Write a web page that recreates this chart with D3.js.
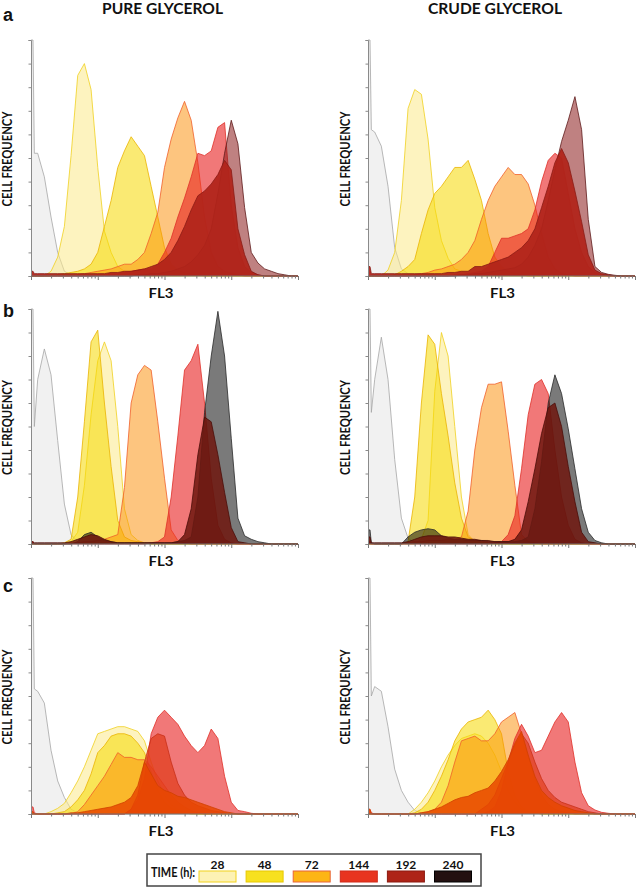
<!DOCTYPE html>
<html><head><meta charset="utf-8">
<script src="https://cdn.jsdelivr.net/npm/d3@7"></script>
<style>
body{margin:0;background:#fff}
svg{display:block}
text{font-family:Lato,"Open Sans",sans-serif;font-weight:700;fill:#111}
</style></head>
<body><svg id="chart" width="637" height="888"></svg>
<script>
// FL3 bins in log10 units (10^0 .. 10^4)
const binsLog=[0,0.03,0.05,0.1,0.2,0.3,0.4,0.5,0.6,0.7,0.8,0.9,1.0,1.1,1.2,1.3,1.4,1.5,1.6,1.7,1.8,1.9,2.0,2.1,2.2,2.3,2.4,2.5,2.6,2.7,2.8,2.9,3.0,3.1,3.2,3.3,3.4,3.5,3.6,3.7,3.8,3.9,4.0];
const timeLabels=["28","48","72","144","192","240"];
const columnTitles=["PURE GLYCEROL","CRUDE GLYCEROL"];
const panelLetters=["a","b","c"];

// ---- panel a, pure glycerol (cell frequency, % of axis) ----
const aP_ctrl=[100,100,52, 52,42,25,10,2,0.5,0,0,0,0];
const aP_28=[0,0,0, 0,0,2,8,21,51,85,90,79,46, 19,10,4,2,1,0.5,0,0,0,0];
const aP_48=[0,0,0, 0,0,0,0.5,1,1.5,2,3,5,10, 21,32,46,53,59,55,51,38,25,12, 5,2.5,1.4,0.8,0.4,0];
const aP_72=[0,0,0, 0,0,0,0,0,0,0.5,1,1.5,2, 2.5,3,4,5,5,7,10,18,27,46, 58,67,74,66,48,25,10,4,2,1, 0.5,0];
const aP_144=[0,0,0, 0,0,0,0,0,0,0,0,0,0.5, 0.5,1,1,1.5,2,2.5,3,3,5,10, 16,25,33,42,52,51,53,63,65,30, 12,4,1.5,0.5,0];
const aP_240=[0,0,0, 0,0,0,0,0,0,0,0,0,0, 0,0,0,0,0,0.5,0.5,1,1,1.5, 2,3,4,6,9,13,20,35,52,66, 56,29,10,5.5,3,2,1,0.5,0,0];
const aP_192=[2,2,1, 1,1,1,1,1,1,1,1,1,1, 1,1.5,1.5,2,2,2.5,3,4,5,7, 10,15,21,28,34,36,39,43,49,45, 20,9,2,0.5,0];
// ---- panel a, crude glycerol ----
const aC_ctrl=[100,100,62, 61,55,38,12,3,1,0,0,0,0];
const aC_28=[0,0,0, 0,0,2.5,10,32,71,79,77,58,29, 15,7.5,3,2,1,0.5,0,0,0,0];
const aC_48=[0,0,0, 0,0,0,0.5,2,4,7,18,28,35, 38,42,46,46,49,41,32,18,8,4, 2,1,0.5,0];
const aC_72=[0,0,0, 0,0,0,0,0,0,0.5,1,1.5,2.5, 3,4,5,7,10,15,24,32,38,42, 46,43,43,39,30,18,8,3,1,0.5, 0];
const aC_144=[0,0,0, 0,0,0,0,0,0,0,0,0,0, 0,0,0.5,0.5,1,1.5,2,4,10,16, 16,17,18,20,28,40,49,52,50,35, 20,10,4,1.5,0.5,0];
const aC_240=[0,0,0, 0,0,0,0,0,0,0,0,0,0, 0,0,0,0.5,0.5,1,1,1.5,2,2.5, 3,3.5,5,8,13,20,32,45,57,66, 76,62,24,4,1.5,0.7,0.3,0];
const aC_192=[4,4,1, 1,1,1,1,1,1,1,1,1,1, 1,1.5,1.5,2,2,4,4,5,6,7, 8,10,12,15,20,29,38,48,54,48, 36,23,9,2.5,1,0.5,0];
// ---- panel b, pure glycerol ----
const bP_ctrl=[100,100,50, 70,83,72,44,17,4,1,0,0,0];
const bP_28=[0,0,0, 0,0,0,0,0,1,5,25,55,78, 86,78,50,15,4,1.5,0.5,0];
const bP_48=[0,0,0, 0,0,0,0,0.5,2,20,52,86,91, 60,33,10,3,1.5,1,0.5,0];
const bP_72=[0,0,0, 0,0,0,0,0,0.5,0.5,1,1,1.5, 2,3,4,24,60,72,76,74,52,28, 6,1.5,0.5,0];
const bP_144=[1,1,0, 0,0,0,0,0,0,0,0,0,0, 0,0,0,0,0,0,0,0.5,1,3, 20,46,74,78,85,60,28,8,2,0.5, 0];
const bP_240=[0,0,0, 0,0,0,0,0,0,1,4,5,3, 1.5,1,0.5,0.5,0.5,0.5,0.5,0.5,0.5,0.5, 0.5,1,1.5,3,20,56,80,99,80,45, 11,3.5,2,1,0.5,0];
const bP_192=[1,1,0.5, 0.5,0.5,0.5,0.5,0.5,1,2,3,4,3.5, 2,1,0.5,0.5,0.5,0.5,0.5,0.5,0.5,0.5, 0.5,1,4,15,38,54,52,38,22,7, 1,0.5,0];
// ---- panel b, crude glycerol ----
const bC_ctrl=[100,100,56, 70,88,70,36,11,2.5,0.5,0,0,0];
const bC_28=[0,0,0, 0,0,0,0,0,0,0,2,10,65, 90,80,50,20,4,1,0.5,0];
const bC_48=[0,0,0, 0,0,0,0,0,1,20,60,89,85, 64,46,26,11,3,1.5,1,0.5,0];
const bC_72=[0,0,0, 0,0,0,0,0,0.5,1,1,1.5,1.5, 1.5,2,2,3,14,40,58,68,68,69, 48,25,4,1,0.5,0];
const bC_144=[1,1,0, 0,0,0,0,0,0,0,0,0,0, 0,0,0,0,0,0,0,0,0.5,1, 4,12,32,55,68,70,64,40,20,8, 2,0.5,0];
const bC_240=[6,6,0.5, 0,0,0,0,0,3,5,6,6.5,6, 3.5,2.5,2,2,1.5,1.5,1.5,1,1,1, 1,1,1.5,3,15,35,60,72,64,49, 32,15,5,1.5,0.5,0];
const bC_192=[3,3,0.5, 0.5,0.5,0.5,0.5,0.5,1,2,3,3.5,3.5, 3.5,3,3,2.5,2,2,1.5,1.5,1,1, 1,2,6,18,32,47,58,60,50,33, 18,5,1,0.5,0];
// ---- panel c, pure glycerol ----
const cP_ctrl=[100,100,53, 52,47,27,14,7,2,0.5,0,0,0];
const cP_28=[0,0,0, 0,0,1,2.4,4.5,9,14,20,27,34, 35,36,37,37,36,35,31,22,14,8, 4,2,1,0.5,0];
const cP_48=[0,0,0, 0,0,0,0.5,1,3,6,10,17,26, 29,33,34,34,33,30,26,18,10,5, 2.5,1.5,0.5,0];
const cP_72=[0,0,0, 0,0,0,0,0,0,1,4,8,12, 16,21,26,24,24,23,23,20,16,12, 8,5,3,1.5,0.5,0];
const cP_144=[3,3,0.5, 0,0,0,0,0,0,0,0,0,0, 0,0,0,0,2,6,15,34,41,44, 41,38,33,29,26,29,36,32,16,5, 1.5,1,0.3,0];
const cP_192=[0,0,0, 0,0,0,0,0,0,0,0,0,0, 0,0,0,0,2,8,22,32,34,33, 22,13,8,5,3.5,2.5,1.5,1,0.5,0];
const cP_240=[1,1,0, 0,0,0,0,0,0.5,0.5,1,1.5,2, 2.5,3,4,5,7,12,22,17,12,10, 9,7.5,7,6,5,4,3,2,1,0.5, 0];
// ---- panel c, crude glycerol ----
const cC_ctrl=[100,100,50, 54,52,37,19,10,5,1.5,0.5,0,0];
const cC_28=[0,0,0, 0,0,0,0,0,0,2,5,9,14, 20,25,29,32,33,34,33,30,25,18, 10,5,2,1,0.5,0];
const cC_48=[0,0,0, 0,0,0,0,0,0,0.5,2,5,10, 16,23,31,36,39,40,41,44,40,34, 18,8,3,1,0.5,0];
const cC_72=[0,0,0, 0,0,0,0,0,0,0,0.5,1,2, 5,12,22,31,32,33,31,31,34,39, 41,43,34,24,15,8,4,2,1,0.5, 0];
const cC_144=[2,2,0.5, 0,0,0,0,0,0,0,0,0,0, 0,0,0,0,0,0,0,1,3,10, 22,32,38,33,26,27,33,39,43,39, 22,9,3.5,1.7,0.7,0.3,0];
const cC_192=[0,0,0, 0,0,0,0,0,0,0,0,0,0, 0,0,0,0,0,0,2,4,8,15, 22,29,34,30,22,15,10,7,5,4, 3,2,1,0.5,0];
const cC_240=[2,2,0, 0,0,0,0,0,0,0,0.5,1,2, 3,4.5,6,7,7.5,9,10,11,14,18, 23,30,35,25,16,10,7,5,3.5,2.5, 1.5,1,0.5,0];

// ---- styles ----
const STY={
  ctrl:{fill:"#eeeeee",op:0.85,stroke:"#a6a6a6"},
  t28:{fill:"#fce98a",op:0.55,stroke:"#f0d020"},
  t48:{fill:"#f6d800",op:0.55,stroke:"#eab400"},
  t72:{fill:"#fb8c00",op:0.5,stroke:"#f0602a"},
  t144:{fill:"#e81e1e",op:0.6,stroke:"#e03028"},
  a240:{fill:"#8b1a1a",op:0.55,stroke:"#5e1a1a"},
  a192:{fill:"#b0241a",op:0.93,stroke:"#8a1a14"},
  b240:{fill:"#000000",op:0.52,stroke:"#2a2a2a"},
  b192:{fill:"#6e160e",op:0.85,stroke:"#4a0c08"},
  c192:{fill:"#e03a18",op:0.7,stroke:"#c83018"},
  c240:{fill:"#e84800",op:0.85,stroke:"#d04000"}
};
const legendFill=["#fdf2b4","#f7e11f","#fdb515","#e8341f","#ae2417","#231010"];
const legendStroke=["#f2d21c","#e8c800","#e8643a","#d02a1a","#8b1a10","#000000"];

const L={x0:31,x1:298}, R={x0:368,x1:635};
const rows=[{yT:40,yB:276},{yT:309,yB:544},{yT:578,yB:814}];
const panels=[
 {col:L,row:0,series:[["ctrl",aP_ctrl],["t28",aP_28],["t48",aP_48],["t72",aP_72],["t144",aP_144],["a240",aP_240],["a192",aP_192]]},
 {col:R,row:0,series:[["ctrl",aC_ctrl],["t28",aC_28],["t48",aC_48],["t72",aC_72],["t144",aC_144],["a240",aC_240],["a192",aC_192]]},
 {col:L,row:1,series:[["ctrl",bP_ctrl],["t28",bP_28],["t48",bP_48],["t72",bP_72],["t144",bP_144],["b240",bP_240],["b192",bP_192]]},
 {col:R,row:1,series:[["ctrl",bC_ctrl],["t28",bC_28],["t48",bC_48],["t72",bC_72],["t144",bC_144],["b240",bC_240],["b192",bC_192]]},
 {col:L,row:2,series:[["ctrl",cP_ctrl],["t28",cP_28],["t48",cP_48],["t72",cP_72],["t144",cP_144],["c192",cP_192],["c240",cP_240]]},
 {col:R,row:2,series:[["ctrl",cC_ctrl],["t28",cC_28],["t48",cC_48],["t72",cC_72],["t144",cC_144],["c192",cC_192],["c240",cC_240]]}
];
function pad(a){const r=a.slice(0,binsLog.length);while(r.length<binsLog.length)r.push(0);return r;}

const svg=d3.select("#chart");
svg.append("rect").attr("width",637).attr("height",888).attr("fill","#fff");

panels.forEach(p=>{
  const r=rows[p.row];
  const x=d3.scaleLog().domain([1,10000]).range([p.col.x0,p.col.x1]);
  const y=d3.scaleLinear().domain([0,100]).range([r.yB,r.yT]);
  const g=svg.append("g");
  const area=d3.area().x((d,i)=>x(Math.pow(10,binsLog[i]))).y0(r.yB).y1(d=>y(d));
  const line=d3.line().x((d,i)=>x(Math.pow(10,binsLog[i]))).y(d=>y(d));
  p.series.forEach(([k,vals])=>{
    const v=pad(vals), s=STY[k];
    g.append("path").datum(v).attr("d",area).attr("fill",s.fill).attr("fill-opacity",s.op);
    g.append("path").datum(v).attr("d",line).attr("fill","none").attr("stroke",s.stroke).attr("stroke-width",0.8).attr("stroke-linejoin","round");
  });
  // y axis
  const ya=g.append("g").attr("transform",`translate(${p.col.x0},0)`)
    .call(d3.axisLeft(y).tickValues(d3.range(0,101,10)).tickSize(2.5).tickFormat(""));
  ya.select(".domain").attr("stroke","#8a8a8a");
  ya.selectAll(".tick line").attr("stroke","#8a8a8a");
  // x axis (log)
  const xa=g.append("g").attr("transform",`translate(0,${r.yB})`)
    .call(d3.axisBottom(x).ticks(10).tickSize(2.5).tickFormat(""));
  xa.select(".domain").attr("stroke","#777").attr("d",`M${p.col.x0},0H${p.col.x1}`);
  xa.selectAll(".tick line").attr("stroke","#777")
    .attr("y2",d=>Math.abs(Math.log10(d)-Math.round(Math.log10(d)))<1e-6?4:2.5);
  // labels
  const cx=p.col===L?161:502.5;
  svg.append("text").attr("x",cx).attr("y",r.yB+22).attr("text-anchor","middle")
    .attr("font-size",14).attr("textLength",25).attr("lengthAdjust","spacingAndGlyphs").text("FL3");
  const fx=p.col===L?12:350;
  svg.append("text").attr("transform",`translate(${fx},${(r.yT+r.yB)/2+1}) rotate(-90)`)
    .attr("text-anchor","middle").attr("font-size",12.5).attr("textLength",95)
    .attr("lengthAdjust","spacingAndGlyphs").text("CELL FREQUENCY");
});

// column titles
svg.append("text").attr("x",162.5).attr("y",13.5).attr("text-anchor","middle").attr("font-size",14.5)
  .attr("textLength",121).attr("lengthAdjust","spacingAndGlyphs").text(columnTitles[0]);
svg.append("text").attr("x",495).attr("y",13.5).attr("text-anchor","middle").attr("font-size",14.5)
  .attr("textLength",134).attr("lengthAdjust","spacingAndGlyphs").text(columnTitles[1]);
// panel letters
[[21,0],[317,1],[592,2]].forEach(([yy,i])=>{
  svg.append("text").attr("x",3).attr("y",yy).attr("font-size",18)
    .style("font-family","'Liberation Sans',Arial,sans-serif").text(panelLetters[i]);
});

// legend
const lg=svg.append("g");
lg.append("rect").attr("x",147).attr("y",854).attr("width",334).attr("height",32)
  .attr("fill","#fff").attr("stroke","#444").attr("stroke-width",1.5);
lg.append("text").attr("x",151).attr("y",877).attr("font-size",12.5).attr("textLength",44)
  .attr("lengthAdjust","spacingAndGlyphs").text("TIME (h):");
const lx=d3.scalePoint().domain(timeLabels).range([217.5,453]);
timeLabels.forEach((t,i)=>{
  lg.append("rect").attr("x",lx(t)-18.5).attr("y",871).attr("width",37).attr("height",11)
    .attr("fill",legendFill[i]).attr("stroke",legendStroke[i]).attr("stroke-width",1);
  lg.append("text").attr("x",lx(t)).attr("y",868.5).attr("text-anchor","middle")
    .attr("font-size",12).text(t);
});
</script></body></html>
